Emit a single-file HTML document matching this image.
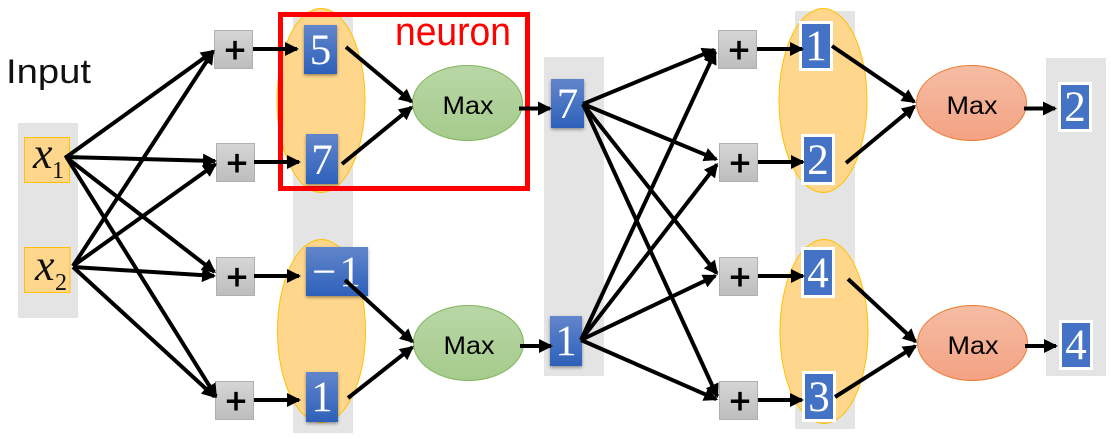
<!DOCTYPE html>
<html><head><meta charset="utf-8"><style>
html,body{margin:0;padding:0;background:#fff}
svg{display:block}
.b{font-family:"Liberation Sans",sans-serif}
.d{font-family:"Liberation Serif",serif;font-size:43px;fill:#fff;text-anchor:middle}
.p{font-family:"Liberation Sans",sans-serif;font-size:36px;fill:#000;stroke:#000;stroke-width:.9px;text-anchor:middle}
.m{font-family:"Liberation Sans",sans-serif;font-size:25px;fill:#000;text-anchor:middle}
.g{fill:#e4e4e4}
.e{fill:#ffd78c;stroke:#ffc000;stroke-width:1}
.pb{fill:url(#pg);stroke:#b0b0b0;stroke-width:1}
.bl{fill:url(#bg);filter:url(#sh)}
.fl{fill:#4472c4;stroke:#fff;stroke-width:3}
.a line{stroke:#000;stroke-width:4;marker-end:url(#ah)}
</style></head><body>
<svg width="1111" height="439" viewBox="0 0 1111 439" xmlns="http://www.w3.org/2000/svg">
<defs>
<linearGradient id="pg" x1="0" y1="0" x2="0" y2="1"><stop offset="0" stop-color="#d6d6d6"/><stop offset="1" stop-color="#bdbdbd"/></linearGradient>
<linearGradient id="bg" x1="0" y1="0" x2="0" y2="1"><stop offset="0" stop-color="#6285cb"/><stop offset="1" stop-color="#2d61ba"/></linearGradient>
<linearGradient id="gg" x1="0" y1="0" x2="0" y2="1"><stop offset="0" stop-color="#b9d7a6"/><stop offset="1" stop-color="#a5cb8c"/></linearGradient>
<linearGradient id="og" x1="0" y1="0" x2="0" y2="1"><stop offset="0" stop-color="#f5bda4"/><stop offset="1" stop-color="#f4a283"/></linearGradient>
<filter id="sh" x="-20%" y="-20%" width="140%" height="140%"><feDropShadow dx="0" dy="1.5" stdDeviation="1.5" flood-color="#000" flood-opacity=".4"/></filter>
<marker id="ah" markerUnits="userSpaceOnUse" markerWidth="18" markerHeight="18" refX="12" refY="8" orient="auto"><path d="M0,1 L14,8 L0,15 Z" fill="#000"/></marker>
</defs>

<!-- gray columns -->
<rect class="g" x="18" y="123" width="60" height="195"/>
<rect class="g" x="293" y="16" width="60" height="417"/>
<rect class="g" x="544" y="57" width="60" height="319"/>
<rect class="g" x="795" y="11" width="60" height="418"/>
<rect class="g" x="1046" y="58" width="60" height="318"/>

<!-- orange ellipses -->
<ellipse class="e" cx="321" cy="100.5" rx="44" ry="92"/>
<ellipse class="e" cx="321.5" cy="331" rx="44" ry="91.5"/>
<ellipse class="e" cx="823" cy="100.5" rx="44" ry="92"/>
<ellipse class="e" cx="824" cy="331.5" rx="44" ry="92"/>

<!-- red box -->
<rect x="280.5" y="14.5" width="247" height="174" fill="none" stroke="#ff0000" stroke-width="5"/>

<!-- input boxes -->
<rect x="24.500" y="137.500" width="45" height="45" fill="#ffd78c" stroke="#ffc000"/>
<rect x="24.500" y="247.500" width="45.500" height="45" fill="#ffd78c" stroke="#ffc000"/>
<text x="33" y="168" font-family="'Liberation Serif',serif" font-style="italic" font-size="44" fill="#111">x</text>
<text x="52" y="178" font-family="'Liberation Serif',serif" font-size="24" fill="#111">1</text>
<text x="35" y="280" font-family="'Liberation Serif',serif" font-style="italic" font-size="44" fill="#111">x</text>
<text x="55" y="290" font-family="'Liberation Serif',serif" font-size="24" fill="#111">2</text>

<!-- plus boxes -->
<rect class="pb" x="214.500" y="30.500" width="38" height="38"/>
<rect class="pb" x="216.500" y="143.500" width="38" height="38"/>
<rect class="pb" x="216.500" y="257.500" width="38" height="38"/>
<rect class="pb" x="215.500" y="381.500" width="38" height="38"/>
<rect class="pb" x="718.500" y="30.500" width="38" height="38"/>
<rect class="pb" x="719.500" y="143.500" width="38" height="38"/>
<rect class="pb" x="719.500" y="257.500" width="38" height="38"/>
<rect class="pb" x="719.500" y="381.500" width="38" height="38"/>
<text class="p" x="235" y="62">+</text>
<text class="p" x="237" y="175">+</text>
<text class="p" x="237" y="289">+</text>
<text class="p" x="236" y="413">+</text>
<text class="p" x="739" y="62">+</text>
<text class="p" x="740" y="175">+</text>
<text class="p" x="740" y="289">+</text>
<text class="p" x="740" y="413">+</text>

<!-- blue gradient boxes -->
<rect class="bl" x="304" y="25" width="33" height="49"/>
<rect class="bl" x="306" y="134" width="32" height="50"/>
<rect class="bl" x="306" y="247" width="62" height="49"/>
<rect class="bl" x="306" y="372" width="32" height="50"/>
<rect class="bl" x="551" y="79" width="33" height="49"/>
<rect class="bl" x="550" y="316" width="32" height="50"/>
<text class="d" x="320.500" y="64">5</text>
<text class="d" x="322" y="174">7</text>
<text class="d" x="338" y="286" letter-spacing="3">−1</text>
<text class="d" x="322" y="411">1</text>
<text class="d" x="567.500" y="118">7</text>
<text class="d" x="566" y="355">1</text>

<!-- white-border blue boxes -->
<rect class="fl" x="800.500" y="22.500" width="31" height="47"/>
<rect class="fl" x="802.500" y="135.500" width="31" height="48"/>
<rect class="fl" x="802.500" y="248.500" width="31" height="48"/>
<rect class="fl" x="803.500" y="372.500" width="31" height="48"/>
<rect class="fl" x="1059.500" y="83.500" width="31" height="47"/>
<rect class="fl" x="1060.500" y="321.500" width="31" height="47"/>
<text class="d" x="816" y="60">1</text>
<text class="d" x="818" y="174">2</text>
<text class="d" x="818" y="287">4</text>
<text class="d" x="819" y="411">3</text>
<text class="d" x="1075" y="121">2</text>
<text class="d" x="1076" y="359">4</text>

<!-- Max ellipses -->
<ellipse cx="467.500" cy="103" rx="55" ry="37.500" fill="url(#gg)" stroke="#7fb55c"/>
<ellipse cx="468.500" cy="343" rx="55" ry="37.500" fill="url(#gg)" stroke="#7fb55c"/>
<ellipse cx="971.500" cy="103" rx="55" ry="37.500" fill="url(#og)" stroke="#ed7d31"/>
<ellipse cx="972.500" cy="343" rx="55" ry="37.500" fill="url(#og)" stroke="#ed7d31"/>
<text class="m" x="468" y="114" textLength="51" lengthAdjust="spacingAndGlyphs">Max</text>
<text class="m" x="469" y="354" textLength="51" lengthAdjust="spacingAndGlyphs">Max</text>
<text class="m" x="972" y="114" textLength="51" lengthAdjust="spacingAndGlyphs">Max</text>
<text class="m" x="973" y="354" textLength="51" lengthAdjust="spacingAndGlyphs">Max</text>

<!-- arrows -->
<g class="a">
<line x1="65" y1="158" x2="213.400" y2="51.200"/>
<line x1="65" y1="157" x2="215" y2="161"/>
<line x1="67" y1="158" x2="214.400" y2="271.800"/>
<line x1="67" y1="158" x2="215.900" y2="396.300"/>
<line x1="73" y1="266" x2="212.900" y2="51.700"/>
<line x1="73" y1="266" x2="215.400" y2="164.200"/>
<line x1="73" y1="267" x2="214" y2="275.900"/>
<line x1="73" y1="267" x2="214.500" y2="396.600"/>
<line x1="253" y1="49" x2="297" y2="49"/>
<line x1="254" y1="162" x2="299" y2="162"/>
<line x1="254" y1="276" x2="299" y2="276"/>
<line x1="254" y1="400" x2="299" y2="400"/>
<line x1="346" y1="47" x2="411.500" y2="101.700"/>
<line x1="342" y1="164" x2="411.500" y2="107.300"/>
<line x1="345" y1="280" x2="412.500" y2="341.700"/>
<line x1="348" y1="398" x2="412.400" y2="347.200"/>
<line x1="519" y1="108.500" x2="550" y2="108.500"/>
<line x1="520" y1="346" x2="551" y2="346"/>
<line x1="583" y1="104" x2="714.200" y2="49.800"/>
<line x1="583" y1="104" x2="716.200" y2="159.200"/>
<line x1="583" y1="104" x2="716.800" y2="273.400"/>
<line x1="583" y1="104" x2="717.200" y2="396.200"/>
<line x1="581" y1="340" x2="715.200" y2="51.800"/>
<line x1="581" y1="340" x2="716.800" y2="164.600"/>
<line x1="581" y1="340" x2="715.200" y2="275.900"/>
<line x1="581" y1="340" x2="716.200" y2="399.200"/>
<line x1="757" y1="49" x2="802" y2="49"/>
<line x1="758" y1="162" x2="803" y2="162"/>
<line x1="758" y1="276" x2="803" y2="276"/>
<line x1="758" y1="400" x2="802" y2="400"/>
<line x1="832" y1="46" x2="914.300" y2="101.900"/>
<line x1="846" y1="163" x2="914.500" y2="106.300"/>
<line x1="848" y1="279" x2="915.500" y2="341.600"/>
<line x1="835" y1="397" x2="915.300" y2="346.100"/>
<line x1="1024" y1="108.500" x2="1055" y2="108.500"/>
<line x1="1025" y1="346" x2="1056" y2="346"/>
</g>

<!-- labels -->
<text class="b" x="6" y="83" font-size="34" fill="#111" textLength="85" lengthAdjust="spacingAndGlyphs">Input</text>
<text class="b" x="395" y="45" font-size="40" fill="#ff0000" textLength="116" lengthAdjust="spacingAndGlyphs">neuron</text>
</svg>
</body></html>
